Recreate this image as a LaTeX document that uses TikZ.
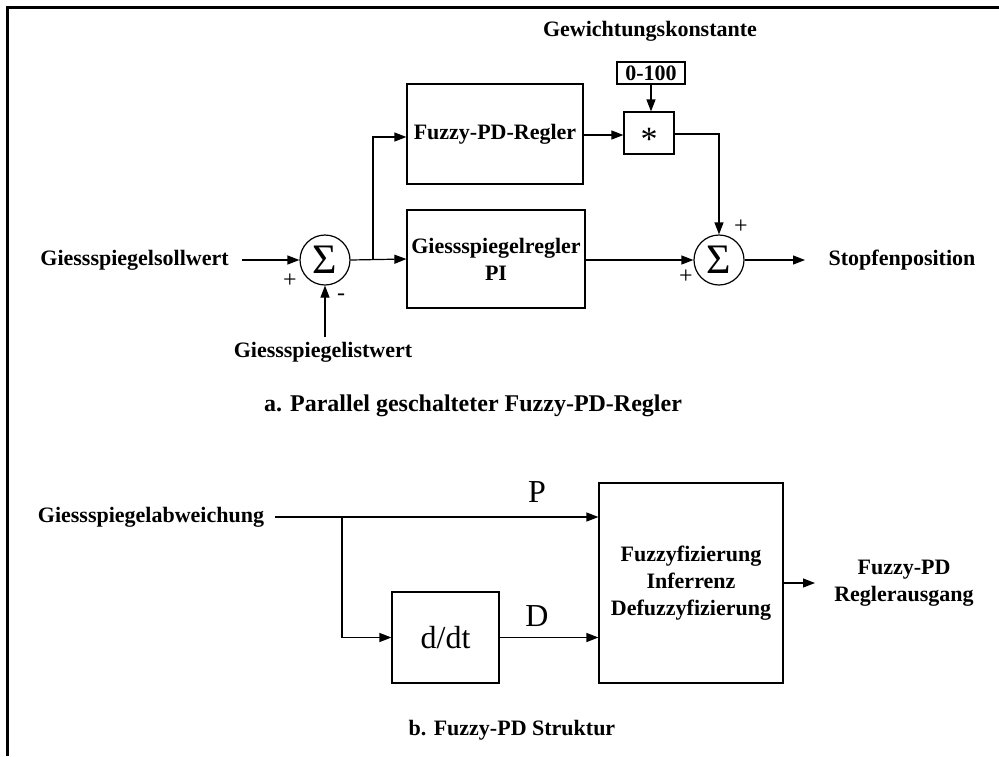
\documentclass[tikz,border=0pt]{standalone}
\usepackage{fontspec}
\setmainfont{Liberation Serif}
\usetikzlibrary{arrows.meta,calc}

\begin{document}
\begin{tikzpicture}[x=1pt,y=-1pt,
  lbl/.style={font=\fontsize{22}{27}\selectfont\bfseries, inner sep=0pt, align=center},
  blk/.style={draw, line width=1.2pt, inner sep=0pt, align=center,
              font=\fontsize{22}{27}\selectfont\bfseries},
  sumc/.style={draw, circle, minimum size=50pt, inner sep=0pt, line width=1.2pt,
               font=\fontsize{42}{42}\selectfont},
  conn/.style={line width=1.2pt},
  arr/.style={conn, -{Triangle[length=12pt,width=9pt]}},
  sgn/.style={font=\fontsize{24}{24}\selectfont, inner sep=0pt},
  big/.style={font=\fontsize{32}{32}\selectfont, inner sep=0pt},
]
\useasboundingbox (0,0) rectangle (999,756);
% outer frame, open towards the right and the bottom
\draw[line width=3pt] (7.5,756) -- (7.5,7.5) -- (999,7.5);

% ---------- a. parallel fuzzy-PD controller ----------
\node[lbl] (gew) at (650,31) {Gewichtungskonstante};
\node[blk, minimum width=68pt, minimum height=22pt] (k) at (651,73) {0-100};
\node[blk, minimum width=50pt, minimum height=42pt, text height=0pt, text depth=0pt,
      font=\fontsize{34}{34}\selectfont] (mul) at (649,133) {\raisebox{-17pt}{*}};
\node[blk, minimum width=176pt, minimum height=100pt] (fpd) at (495,134) {Fuzzy-PD-Regler};
\node[blk, minimum width=178pt, minimum height=98pt] (pi) at (496,259) {Giessspiegelregler\\PI};
\node[sumc] (s1) at (325,260) {Σ};
\node[sumc] (s2) at (719,260) {Σ};

\node[lbl] (soll) at (134.5,260) {Giessspiegelsollwert};
\node[lbl] (ist) at (323,352) {Giessspiegelistwert};
\node[lbl] (stopf) at (902,260) {Stopfenposition};
\coordinate (sollend) at (242,260);
\coordinate (istend) at (325,337);
\coordinate (br1) at (373,260);
\coordinate (outend) at (805,260);

\node[sgn] at (290,281) {+};
\node[sgn] at (341,297) {-};
\node[sgn] at (741,227) {+};
\node[sgn] at (686,277) {+};

\draw[arr] (sollend) -- (s1.west);
\draw[arr] (istend) -- (s1.south);
\draw[arr] (s1.east) -- (pi.west);
\draw[arr] (br1) |- ($(fpd.west)+(0,3)$);
\draw[arr] (k.south) -- ($(mul.north)+(2,0)$);
\draw[arr] ($(fpd.east)+(0,1)$) -- ($(mul.west)+(0,2)$);
\draw[arr] ($(mul.east)+(0,1)$) -| (s2.north);
\draw[arr] (pi.east |- s2.west) -- (s2.west);
\draw[arr] (s2.east) -- (outend);

\node[lbl, font=\fontsize{24}{28}\selectfont\bfseries] (capa) at (473,406) {a. Parallel geschalteter Fuzzy-PD-Regler};

% ---------- b. fuzzy-PD structure ----------
\node[lbl] (abw) at (151,517) {Giessspiegelabweichung};
\node[blk, minimum width=184pt, minimum height=200pt] (fz) at (691,583)
  {Fuzzyfizierung\\Inferrenz\\Defuzzyfizierung};
\node[blk, minimum width=107pt, minimum height=91pt, font=\fontsize{32}{32}\selectfont] (ddt) at (445.5,637.5) {d/dt};
\node[lbl] (ausg) at (904,583) {Fuzzy-PD\\Reglerausgang};
\coordinate (abwend) at (275,517);
\coordinate (br2) at (342,517);
\coordinate (fzend) at (815,583);

\draw[arr] (abwend) -- (fz.west |- abwend);
\draw[arr] (br2) |- (ddt.west);
\draw[arr] (ddt.east) -- (fz.west |- ddt.east);
\draw[arr] (fz.east) -- (fzend);
\node[big] at (537,492) {P};
\node[big] at (537,616) {D};

\node[lbl] (capb) at (512,730) {b. Fuzzy-PD Struktur};
\end{tikzpicture}
\end{document}
